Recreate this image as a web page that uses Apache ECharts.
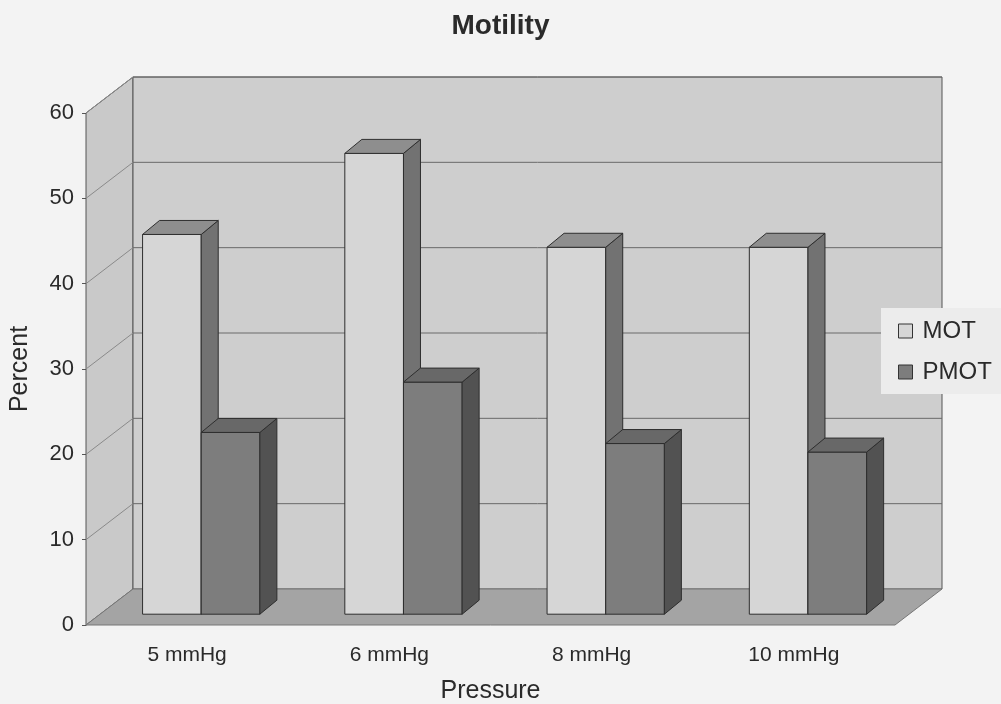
<!DOCTYPE html>
<html><head><meta charset="utf-8">
<script src="https://cdn.jsdelivr.net/npm/echarts/dist/echarts.min.js"></script>
<style>html,body{margin:0;padding:0;background:#f3f3f3}#c{width:1001px;height:704px}</style>
</head><body><div id="c"></div>
<script>
const categories = ['5 mmHg', '6 mmHg', '8 mmHg', '10 mmHg'];
const motValues = [44.5, 54, 43, 43];
const pmotValues = [21.3, 27.2, 20, 19];
const yTicks = [0, 10, 20, 30, 40, 50, 60];
const seriesNames = ['MOT', 'PMOT'];

// 3D look (style constants)
const DX = 47, DY = -36;            // full depth of the chart box
const PX = 0.3 * DX, PY = 0.3 * DY; // plane on which bar fronts sit
const BDX = 17, BDY = -14;          // bar depth
const BAR_FRAC = 0.29;              // bar width / category band

const colors = {
  MOT: { front: '#d6d6d6', side: '#727272', top: '#8e8e8e' },
  PMOT: { front: '#7d7d7d', side: '#525252', top: '#686868' }
};

const FONT = 'Liberation Sans, Arial, sans-serif';
const chart = echarts.init(document.getElementById('c'), null, { renderer: 'canvas' });

function wallsRender(params, api) {
  const cs = params.coordSys;
  const x = cs.x, y = cs.y, w = cs.width, h = cs.height;
  const children = [];
  children.push({ type: 'polygon', shape: { points: [[x, y], [x + DX, y + DY], [x + DX, y + h + DY], [x, y + h]] },
    style: { fill: '#c9c9c9', stroke: '#555', lineWidth: 1 } });
  children.push({ type: 'rect', shape: { x: x + DX, y: y + DY, width: w, height: h },
    style: { fill: '#cecece', stroke: '#555', lineWidth: 1 } });
  children.push({ type: 'polygon', shape: { points: [[x, y + h], [x + DX, y + h + DY], [x + w + DX, y + h + DY], [x + w, y + h]] },
    style: { fill: '#a4a4a4', stroke: '#777', lineWidth: 1 } });
  yTicks.forEach(function (v) {
    if (v === 0) return;
    const yy = api.coord([0, v])[1];
    children.push({ type: 'line', shape: { x1: x + DX, y1: yy + DY, x2: x + w + DX, y2: yy + DY },
      style: { stroke: '#6a6a6a', lineWidth: 1 } });
    children.push({ type: 'line', shape: { x1: x, y1: yy, x2: x + DX, y2: yy + DY },
      style: { stroke: '#8a8a8a', lineWidth: 1 } });
  });
  return { type: 'group', children: children };
}

function makeBarRender(name, sideIndex) {
  return function (params, api) {
    const idx = api.value(0);
    const val = api.value(1);
    const base = api.coord([idx, 0]);
    const top = api.coord([idx, val]);
    const band = api.size([1, 0])[0];
    const bw = band * BAR_FRAC;
    const x0 = base[0] + PX + (sideIndex === 0 ? -bw : 0);
    const by = base[1] + PY;
    const ty = top[1] + PY;
    const c = colors[name];
    const st = '#2e2e2e';
    return { type: 'group', children: [
      { type: 'rect', shape: { x: x0, y: ty, width: bw, height: by - ty },
        style: { fill: c.front, stroke: st, lineWidth: 1 } },
      { type: 'polygon', shape: { points: [[x0 + bw, ty], [x0 + bw + BDX, ty + BDY], [x0 + bw + BDX, by + BDY], [x0 + bw, by]] },
        style: { fill: c.side, stroke: st, lineWidth: 1 } },
      { type: 'polygon', shape: { points: [[x0, ty], [x0 + BDX, ty + BDY], [x0 + bw + BDX, ty + BDY], [x0 + bw, ty]] },
        style: { fill: c.top, stroke: st, lineWidth: 1 } }
    ] };
  };
}

const option = {
  backgroundColor: '#f3f3f3',
  animation: false,
  textStyle: { fontFamily: FONT },
  title: { text: 'Motility', left: 'center', top: 7,
    textStyle: { fontSize: 28, fontWeight: 'bold', color: '#2a2a2a', fontFamily: FONT } },
  grid: { left: 86, right: 106, top: 113, bottom: 79, containLabel: false, outerBoundsMode: 'none' },
  legend: {
    data: seriesNames, orient: 'vertical', left: 881, top: 308,
    backgroundColor: '#ececec', padding: [11, 30, 10, 17], itemGap: 17,
    icon: 'rect', itemWidth: 14, itemHeight: 14,
    itemStyle: { borderColor: '#333', borderWidth: 1 },
    textStyle: { fontSize: 24, color: '#2a2a2a', padding: [0, 0, 0, 5], fontFamily: FONT }
  },
  xAxis: {
    type: 'category', data: categories,
    axisLine: { show: false }, axisTick: { show: false },
    axisLabel: { fontSize: 21, color: '#2a2a2a', margin: 20, fontFamily: FONT },
    name: 'Pressure', nameLocation: 'middle', nameGap: 54,
    nameTextStyle: { fontSize: 25, color: '#2a2a2a', fontFamily: FONT }
  },
  yAxis: {
    type: 'value', min: 0, max: 60, interval: 10,
    axisLine: { show: true, lineStyle: { color: '#555' } },
    axisTick: { show: true, length: 4, lineStyle: { color: '#555' } },
    splitLine: { show: false },
    axisLabel: { fontSize: 22, color: '#2a2a2a', margin: 12, padding: [4, 0, 0, 0], fontFamily: FONT },
    name: 'Percent', nameLocation: 'middle', nameGap: 53, nameRotate: 90,
    nameTextStyle: { fontSize: 25, color: '#2a2a2a', fontFamily: FONT }
  },
  series: [
    { type: 'custom', name: '_walls', renderItem: wallsRender, data: [[0, 0]], z: 1, silent: true },
    { type: 'custom', name: 'MOT', renderItem: makeBarRender('MOT', 0), z: 5,
      itemStyle: { color: colors.MOT.front, borderColor: '#333', borderWidth: 1 },
      data: motValues.map(function (v, i) { return [i, v]; }) },
    { type: 'custom', name: 'PMOT', renderItem: makeBarRender('PMOT', 1), z: 6,
      itemStyle: { color: colors.PMOT.front, borderColor: '#333', borderWidth: 1 },
      data: pmotValues.map(function (v, i) { return [i, v]; }) }
  ]
};
chart.setOption(option);
</script>
</body></html>
